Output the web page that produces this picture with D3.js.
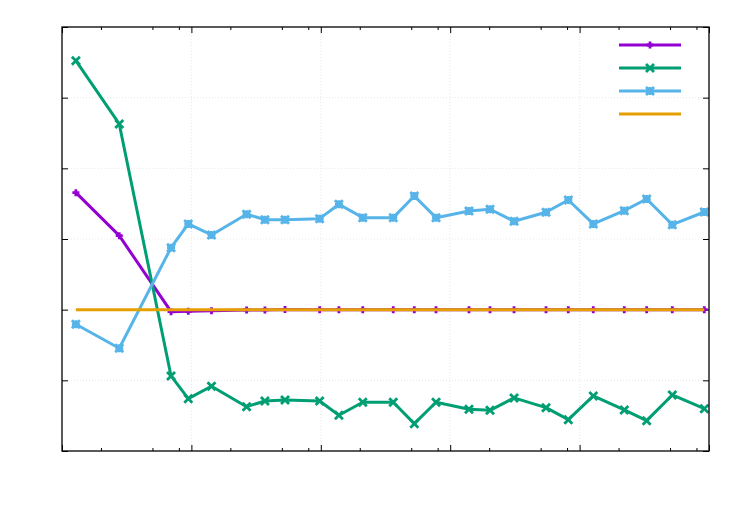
<!DOCTYPE html>
<html>
<head>
<meta charset="utf-8">
<script src="https://cdn.jsdelivr.net/npm/d3@7"></script>
<style>
  body { margin: 0; background: #fff; }
  svg { display: block; }
  .grid line { stroke: #e2e2e2; stroke-width: 0.8; stroke-dasharray: 1,2; }
  .axis line { stroke: #000; stroke-width: 1; }
  .axis path { display: none; }
</style>
</head>
<body>
<svg id="chart" width="750" height="525"></svg>
<script>

// x positions of the samples (log axis)
var xValues = [1.28, 2.77, 6.96, 9.46, 14.3, 26.7, 37, 52.9, 98, 138, 211, 363,
	528, 777, 1397, 2031, 3114, 5502, 8180, 12760, 22150, 32980, 52050, 92000];

var purpleValues = [1.656, 1.047, -0.028, -0.023, -0.014, -0.004, -0.004, 0.003, 0, 0, 0, 0,
	0, 0, 0, 0, 0, 0, 0, 0, 0, 0, 0, 0];

var greenValues = [3.523, 2.628, -0.938, -1.259, -1.084, -1.373, -1.292, -1.278, -1.292, -1.494, -1.310, -1.310,
	-1.613, -1.310, -1.409, -1.424, -1.249, -1.387, -1.557, -1.221, -1.419, -1.571, -1.207, -1.401];

var blueValues = [-0.207, -0.546, 0.877, 1.213, 1.057, 1.350, 1.274, 1.274, 1.288, 1.491, 1.302, 1.302,
	1.609, 1.302, 1.397, 1.421, 1.251, 1.378, 1.552, 1.213, 1.401, 1.566, 1.203, 1.382];

var orangeValues = [0, 0, 0, 0, 0, 0, 0, 0, 0, 0, 0, 0,
	0, 0, 0, 0, 0, 0, 0, 0, 0, 0, 0, 0];

// axis ticks (labels are blank in the original)
var xMajorTicks = [1, 10, 100, 1000, 10000, 100000];
var xMinorSteps = [2, 5, 8];
var yTicks = [-2, -1, 0, 1, 2, 3, 4];

var series = [
	{ name: 'purple', values: purpleValues, color: '#9400d3', marker: 'plus' },
	{ name: 'green', values: greenValues, color: '#009e73', marker: 'cross' },
	{ name: 'blue', values: blueValues, color: '#56b4e9', marker: 'star' },
	{ name: 'orange', values: orangeValues, color: '#e69f00', marker: null }
];

var margin = { top: 27, right: 41, bottom: 74, left: 62 };
var svg = d3.select('#chart');
var width = +svg.attr('width') - margin.left - margin.right;
var height = +svg.attr('height') - margin.top - margin.bottom;

var g = svg.append('g').attr('transform', 'translate(' + margin.left + ',' + margin.top + ')');

var x = d3.scaleLog().domain([1, 100000]).range([0, width]);
var y = d3.scaleLinear().domain([-2, 4]).range([height, 0]);

var xMinorTicks = [];
xMajorTicks.slice(0, -1).forEach(function (m) {
	xMinorSteps.forEach(function (s) { xMinorTicks.push(m * s); });
});

// grid
var grid = g.append('g').classed('grid', true);
grid.selectAll('line.gx')
	.data(xMajorTicks.slice(1, -1))
	.enter().append('line')
	.attr('x1', function (d) { return x(d); })
	.attr('x2', function (d) { return x(d); })
	.attr('y1', 0).attr('y2', height);
grid.selectAll('line.gy')
	.data(yTicks.slice(1, -1))
	.enter().append('line')
	.attr('x1', 0).attr('x2', width)
	.attr('y1', function (d) { return y(d); })
	.attr('y2', function (d) { return y(d); });

// ticks on all four sides, pointing inward
function addAxis(axis, tx, ty) {
	g.append('g').classed('axis', true)
		.attr('transform', 'translate(' + tx + ',' + ty + ')')
		.call(axis)
		.selectAll('text').remove();
}
addAxis(d3.axisBottom(x).tickValues(xMajorTicks).tickSize(-6).tickFormat(''), 0, height);
addAxis(d3.axisBottom(x).tickValues(xMinorTicks).tickSize(-3).tickFormat(''), 0, height);
addAxis(d3.axisTop(x).tickValues(xMajorTicks).tickSize(-6).tickFormat(''), 0, 0);
addAxis(d3.axisTop(x).tickValues(xMinorTicks).tickSize(-3).tickFormat(''), 0, 0);
addAxis(d3.axisLeft(y).tickValues(yTicks).tickSize(-6).tickFormat(''), 0, 0);
addAxis(d3.axisRight(y).tickValues(yTicks).tickSize(-6).tickFormat(''), width, 0);

// marker shapes
function markerPath(type, r) {
	var plus = 'M' + (-r) + ',0H' + r + 'M0,' + (-r) + 'V' + r;
	var cross = 'M' + (-r) + ',' + (-r) + 'L' + r + ',' + r + 'M' + (-r) + ',' + r + 'L' + r + ',' + (-r);
	if (type === 'plus') return plus;
	if (type === 'cross') return cross;
	return plus + cross;
}

var line = d3.line()
	.x(function (d) { return x(d.x); })
	.y(function (d) { return y(d.y); });

series.forEach(function (s) {
	var pts = s.values.map(function (v, i) { return { x: xValues[i], y: v }; });

	g.append('path')
		.datum(pts)
		.attr('fill', 'none')
		.attr('stroke', s.color)
		.attr('stroke-width', 3)
		.attr('stroke-linejoin', 'round')
		.attr('d', line);

	if (s.marker) {
		g.selectAll('path.m-' + s.name)
			.data(pts)
			.enter().append('path')
			.attr('class', 'm-' + s.name)
			.attr('transform', function (d) { return 'translate(' + x(d.x) + ',' + y(d.y) + ')'; })
			.attr('d', markerPath(s.marker, s.marker === 'plus' ? 3.5 : 4))
			.attr('fill', 'none')
			.attr('stroke', s.color)
			.attr('stroke-width', 2.8);
	}
});

// legend (entries without text)
var legend = g.append('g').attr('transform', 'translate(' + (619 - margin.left) + ',' + (45 - margin.top) + ')');
series.forEach(function (s, i) {
	var row = legend.append('g').attr('transform', 'translate(0,' + (i * 23) + ')');
	row.append('line')
		.attr('x1', 0).attr('x2', 62)
		.attr('y1', 0).attr('y2', 0)
		.attr('stroke', s.color)
		.attr('stroke-width', 3);
	if (s.marker) {
		row.append('path')
			.attr('transform', 'translate(31,0)')
			.attr('d', markerPath(s.marker, s.marker === 'plus' ? 3.5 : 4))
			.attr('fill', 'none')
			.attr('stroke', s.color)
			.attr('stroke-width', 2.8);
	}
});

// frame
g.append('rect')
	.attr('width', width)
	.attr('height', height)
	.attr('fill', 'none')
	.attr('stroke', '#000')
	.attr('stroke-width', 1.3);

</script>
</body>
</html>
